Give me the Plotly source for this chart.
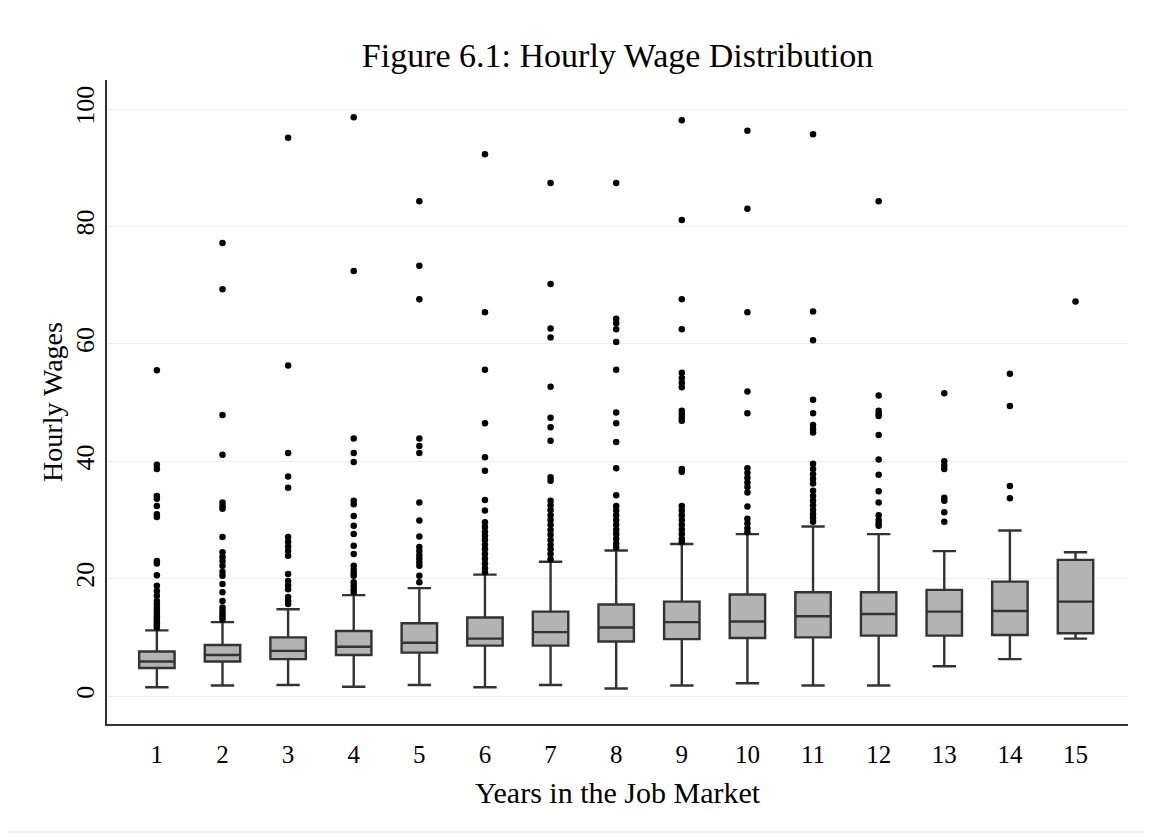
import plotly.graph_objects as go

years = list(range(1, 16))
q1 = [4.8, 5.9, 6.3, 7.0, 7.4, 8.6, 8.6, 9.3, 9.7, 9.9, 10.0, 10.3, 10.3, 10.4, 10.7]
median = [5.9, 7.0, 7.7, 8.4, 9.1, 9.8, 10.9, 11.7, 12.6, 12.7, 13.6, 14.0, 14.4, 14.5, 16.1]
q3 = [7.6, 8.7, 10.0, 11.1, 12.4, 13.4, 14.4, 15.6, 16.1, 17.3, 17.7, 17.7, 18.1, 19.5, 23.2]
lower_whisker = [1.5, 1.8, 1.9, 1.6, 1.9, 1.5, 1.9, 1.3, 1.8, 2.2, 1.8, 1.8, 5.1, 6.3, 9.8]
upper_whisker = [11.2, 12.6, 14.8, 17.2, 18.4, 20.7, 22.9, 24.8, 25.9, 27.6, 28.9, 27.6, 24.7, 28.2, 24.5]

outliers_y1 = [55.5, 39.4, 38.7, 34.1, 33.6, 32.4, 31.0, 30.5, 23.0, 22.6, 20.6, 18.8, 17.9, 17.1,
               16.2, 15.6, 15.0, 14.5, 14.0, 13.6, 13.2, 12.8, 12.4, 12.0, 11.7]
outliers_y2 = [77.2, 69.3, 47.9, 41.1, 33.0, 32.4, 31.9, 27.1, 24.5, 23.7, 23.0, 22.2, 21.2, 20.5,
               19.1, 17.7, 16.2, 15.1, 14.5, 14.0, 13.5, 13.0]
outliers_y3 = [95.1, 56.3, 41.4, 37.4, 35.5, 27.1, 26.3, 25.5, 24.7, 23.9, 20.8, 19.6, 18.9, 18.2,
               16.9, 16.2, 15.7]
outliers_y4 = [98.6, 72.4, 43.9, 41.4, 39.9, 33.3, 32.7, 30.7, 29.0, 27.6, 25.6, 24.2, 22.2, 21.5,
               20.9, 20.5, 19.4, 18.8, 18.2, 17.7]
outliers_y5 = [84.3, 73.3, 67.6, 43.9, 42.6, 41.4, 33.0, 29.9, 27.2, 25.4, 24.7, 24.0, 23.4, 22.8,
               22.2, 20.5, 19.4]
outliers_y6 = [92.3, 65.4, 55.6, 46.5, 40.7, 38.4, 33.4, 31.6, 29.6, 28.8, 28.0, 27.3, 26.6, 25.8,
               25.0, 24.2, 23.4, 22.6, 21.8, 21.1]
outliers_y7 = [87.4, 70.2, 62.6, 61.1, 52.7, 47.4, 45.8, 43.5, 37.3, 36.7, 33.3, 32.5, 31.7, 30.8,
               30.0, 29.2, 28.3, 27.5, 26.6, 25.8, 25.0, 24.2, 23.3]
outliers_y8 = [87.4, 64.3, 63.5, 62.5, 60.3, 55.6, 48.3, 46.5, 43.3, 38.8, 34.2, 32.4, 31.6, 30.8,
               30.0, 29.2, 28.4, 27.6, 26.8, 26.0, 25.3]
outliers_y9 = [98.1, 81.1, 67.6, 62.5, 55.1, 54.2, 53.4, 52.6, 48.6, 48.0, 47.4, 46.9, 38.7, 38.2,
               32.4, 31.6, 30.8, 30.0, 29.2, 28.4, 27.6, 26.8, 26.2]
outliers_y10 = [96.3, 83.0, 65.4, 51.9, 48.2, 38.8, 38.0, 37.2, 36.4, 35.6, 34.7, 32.3, 30.2, 29.4,
                28.6, 27.9]
outliers_y11 = [95.7, 65.5, 60.6, 50.5, 48.2, 46.2, 45.5, 44.9, 39.6, 38.7, 37.8, 37.0, 36.2, 35.0,
                34.1, 33.3, 32.5, 31.7, 31.0, 30.4, 29.7]
outliers_y12 = [84.3, 51.2, 48.6, 48.1, 47.7, 44.5, 40.3, 37.7, 34.9, 33.0, 30.8, 30.0, 29.5, 29.0]
outliers_y13 = [51.6, 40.0, 39.3, 38.7, 33.8, 33.3, 31.3, 29.7]
outliers_y14 = [54.9, 49.4, 35.8, 33.7]
outliers_y15 = [67.2]

outlier_lists = [outliers_y1, outliers_y2, outliers_y3, outliers_y4, outliers_y5, outliers_y6,
                 outliers_y7, outliers_y8, outliers_y9, outliers_y10, outliers_y11, outliers_y12,
                 outliers_y13, outliers_y14, outliers_y15]

y_ticks = [0, 20, 40, 60, 80, 100]

SERIF = "Liberation Serif, Times New Roman, serif"

fig = go.Figure()

fig.add_trace(go.Box(
    x=years,
    q1=q1, median=median, q3=q3,
    lowerfence=lower_whisker, upperfence=upper_whisker,
    boxpoints=False,
    width=0.54,
    whiskerwidth=0.66,
    fillcolor="#b3b3b3",
    line=dict(color="#333333", width=2.4),
    showlegend=False,
))

ox, oy = [], []
for yr, vals in zip(years, outlier_lists):
    for v in vals:
        ox.append(yr)
        oy.append(v)

fig.add_trace(go.Scatter(
    x=ox, y=oy, mode="markers",
    marker=dict(color="black", size=6.5, symbol="circle"),
    showlegend=False,
))

fig.update_layout(
    width=1151, height=840,
    margin=dict(l=99, r=31, t=72, b=124),
    paper_bgcolor="white",
    plot_bgcolor="white",
    font=dict(family=SERIF, color="black"),
    title=dict(
        text="Figure 6.1: Hourly Wage Distribution",
        font=dict(family=SERIF, size=34, color="black"),
        x=0.5, xref="paper", xanchor="center",
        y=1 - 47.5 / 840, yref="container", yanchor="middle",
    ),
    xaxis=dict(
        range=[0.24, 15.8],
        tickmode="array", tickvals=years, ticktext=[str(y) for y in years],
        showgrid=False, zeroline=False,
        showline=True, linecolor="#333333", linewidth=2,
        ticks="", ticklabelstandoff=7,
        tickfont=dict(family=SERIF, size=25),
        title=dict(text="Years in the Job Market", font=dict(family=SERIF, size=30), standoff=15),
    ),
    yaxis=dict(
        range=[-4.75, 104.95],
        tickmode="array", tickvals=y_ticks, ticktext=[str(v) for v in y_ticks],
        tickangle=-90,
        showgrid=True, gridcolor="#e5eef0", gridwidth=1,
        zeroline=False,
        showline=True, linecolor="#333333", linewidth=2,
        ticks="", ticklabelstandoff=1,
        tickfont=dict(family=SERIF, size=26),
        title=dict(text="Hourly Wages", font=dict(family=SERIF, size=28), standoff=0),
    ),
    shapes=[dict(
        type="rect", xref="paper", yref="paper",
        x0=-0.1009, x1=1.0186, y0=-0.1677, y1=1.1165,
        line=dict(color="#edf2f3", width=2), fillcolor="rgba(0,0,0,0)", layer="below",
    )],
)

fig.write_html("out.html")
